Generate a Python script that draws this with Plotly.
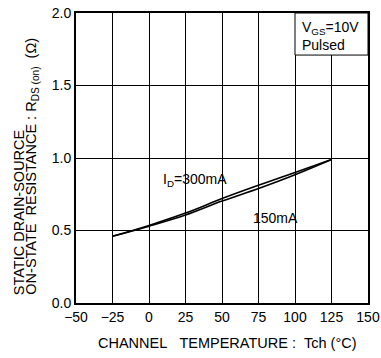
import plotly.graph_objects as go

temps = [-25, 0, 25, 50, 75, 100, 125]
r_300ma = [0.46, 0.535, 0.62, 0.72, 0.812, 0.90, 0.99]
r_150ma = [0.46, 0.53, 0.607, 0.703, 0.79, 0.885, 0.99]

x_ticks = [-50, -25, 0, 25, 50, 75, 100, 125, 150]
y_ticks = [0.0, 0.5, 1.0, 1.5, 2.0]

FONT = "Liberation Sans, Arial, sans-serif"
NB = "\u00a0"

fig = go.Figure()
fig.add_trace(go.Scatter(x=temps, y=r_300ma, mode="lines", line=dict(color="black", width=1.6, shape="spline"), name="300mA"))
fig.add_trace(go.Scatter(x=temps, y=r_150ma, mode="lines", line=dict(color="black", width=1.6, shape="spline"), name="150mA"))

fig.update_layout(
    width=381, height=358,
    margin=dict(l=76, r=13, t=13, b=55),
    paper_bgcolor="white", plot_bgcolor="white",
    showlegend=False,
    font=dict(family=FONT, size=14, color="black"),
    xaxis=dict(range=[-50, 150], tickvals=x_ticks, showgrid=True, gridcolor="black", gridwidth=1,
               showline=True, linecolor="black", linewidth=2, mirror=True, zeroline=False,
               ticks="", ticklen=0, fixedrange=True, automargin=False),
    yaxis=dict(range=[0, 2], tickvals=y_ticks, tickformat=".1f", showgrid=True, gridcolor="black", gridwidth=1,
               showline=True, linecolor="black", linewidth=2, mirror=True, zeroline=False,
               ticks="", ticklen=0, fixedrange=True, automargin=False),
)

# x-axis title
fig.add_annotation(
    x=0.5, y=0, xref="paper", yref="paper", xanchor="center", yanchor="middle",
    xshift=5, yshift=-40, showarrow=False,
    text="CHANNEL" + NB * 3 + "TEMPERATURE" + NB + ":" + NB + NB + "Tch" + NB + "(°C)",
    font=dict(size=14.5),
)

# y-axis title, two rotated lines anchored at the bottom
fig.add_annotation(
    x=0, y=0.02, xref="paper", yref="paper", xanchor="center", yanchor="bottom",
    xshift=-57, textangle=-90, showarrow=False,
    text="STATIC" + NB + "DRAIN-SOURCE", font=dict(size=14.5),
)
fig.add_annotation(
    x=0, y=0.02, xref="paper", yref="paper", xanchor="center", yanchor="bottom",
    xshift=-44, textangle=-90, showarrow=False,
    text="ON-STATE" + NB * 2 + "RESISTANCE" + NB + ":" + NB
         + "R<sub>DS (on)</sub>" + NB * 2 + "(Ω)",
    font=dict(size=14.5),
)

# condition box in top-right corner
fig.add_shape(type="rect", xref="x", yref="y", x0=100, x1=150, y0=1.71, y1=2.0,
              fillcolor="white", line=dict(color="black", width=1), layer="above")
fig.add_annotation(
    x=100, y=2.0, xref="x", yref="y", xanchor="left", yanchor="top",
    xshift=5, yshift=-4, showarrow=False, align="left",
    text="V<sub>GS</sub>=10V<br>Pulsed", font=dict(size=14),
)

fig.add_annotation(x=31.5, y=0.848, text="I<sub>D</sub>=300mA", showarrow=False, font=dict(size=14))
fig.add_annotation(x=86.6, y=0.586, text="150mA", showarrow=False, font=dict(size=14))

fig.write_html("out.html")
